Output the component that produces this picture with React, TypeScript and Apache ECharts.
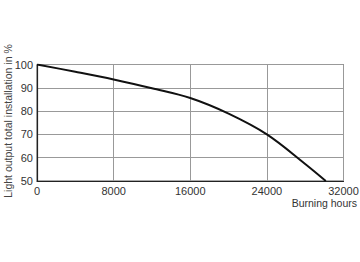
import React, { useEffect, useRef } from "react";
import * as echarts from "echarts";

const hours = [0, 4000, 8000, 12000, 16000, 20000, 24000, 28000, 30150];
const lightOutput = [100, 96.9, 93.6, 89.8, 85.6, 78.9, 70, 57.3, 50];
const xTicks = [0, 8000, 16000, 24000, 32000];
const yTicks = [50, 60, 70, 80, 90, 100];

export default function App() {
  const ref = useRef<HTMLDivElement>(null);
  useEffect(() => {
    if (!ref.current) return;
    const chart = echarts.init(ref.current, undefined, { renderer: "svg" });
    const font = "Liberation Sans, Arial, sans-serif";
    chart.setOption({
      animation: false,
      grid: {
        left: 37,
        right: 16.5,
        top: 64.5,
        bottom: 81,
        containLabel: false,
        outerBoundsMode: "none",
        show: true,
        borderColor: "#555",
        borderWidth: 1,
        backgroundColor: "transparent",
      },
      xAxis: {
        type: "value",
        min: xTicks[0],
        max: xTicks[xTicks.length - 1],
        interval: 8000,
        axisLine: { show: true, lineStyle: { color: "#222", width: 1.2 } },
        axisTick: { show: false },
        splitLine: { show: true, lineStyle: { color: "#999", width: 1 } },
        axisLabel: {
          color: "#333",
          fontSize: 11,
          fontFamily: font,
          margin: 4,
          formatter: (v: number) => String(v),
        },
      },
      yAxis: {
        type: "value",
        min: yTicks[0],
        max: yTicks[yTicks.length - 1],
        interval: 10,
        axisLine: { show: true, lineStyle: { color: "#222", width: 1.2 } },
        axisTick: { show: false },
        splitLine: { show: true, lineStyle: { color: "#999", width: 1 } },
        axisLabel: {
          color: "#333",
          fontSize: 11,
          fontFamily: font,
          margin: 4,
          formatter: (v: number) => String(v),
        },
      },
      graphic: [
        {
          type: "text",
          x: 8,
          y: 121,
          rotation: Math.PI / 2,
          style: {
            text: "Light output total installation in %",
            fill: "#444",
            fontSize: 10.5,
            fontFamily: font,
            align: "center",
            verticalAlign: "middle",
          },
        },
        {
          type: "text",
          right: 3,
          top: 197,
          style: {
            text: "Burning hours",
            fill: "#333",
            fontSize: 10.5,
            fontFamily: font,
          },
        },
      ],
      series: [
        {
          type: "line",
          data: hours.map((h, i) => [h, lightOutput[i]]),
          smooth: 0.35,
          showSymbol: false,
          lineStyle: { color: "#111", width: 2 },
        },
      ],
    });
    return () => chart.dispose();
  }, []);
  return <div ref={ref} style={{ width: 360, height: 262, position: "absolute", left: 0, top: 0, background: "#fff" }} />;
}
